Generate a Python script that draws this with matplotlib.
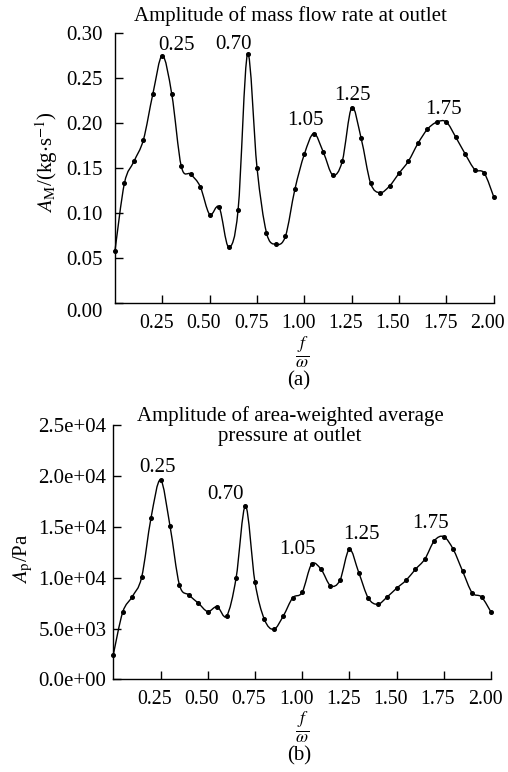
import matplotlib
matplotlib.use("Agg")
import matplotlib.pyplot as plt
import matplotlib.transforms as mtransforms
from matplotlib.path import Path
from matplotlib.patches import PathPatch
from matplotlib.ticker import FixedLocator, FuncFormatter

plt.rcParams['font.family'] = ['Liberation Serif', 'DejaVu Serif']
plt.rcParams['mathtext.fontset'] = 'stix'

# ---------------- data ----------------
freq = [0.00, 0.05, 0.10, 0.15, 0.20, 0.25, 0.30, 0.35, 0.40, 0.45,
        0.50, 0.55, 0.60, 0.65, 0.70, 0.75, 0.80, 0.85, 0.90, 0.95,
        1.00, 1.05, 1.10, 1.15, 1.20, 1.25, 1.30, 1.35, 1.40, 1.45,
        1.50, 1.55, 1.60, 1.65, 1.70, 1.75, 1.80, 1.85, 1.90, 1.95, 2.00]

mass_amp = [0.058, 0.133, 0.157, 0.181, 0.232, 0.2745, 0.2315, 0.1515, 0.1427, 0.129,
            0.098, 0.106, 0.062, 0.103, 0.2763, 0.150, 0.0778, 0.0649, 0.0738, 0.126,
            0.165, 0.188, 0.1674, 0.142, 0.157, 0.2167, 0.1826, 0.1327, 0.1222, 0.1297,
            0.1438, 0.1574, 0.177, 0.1927, 0.2008, 0.2008, 0.1838, 0.165, 0.148, 0.144, 0.1178]

pres_amp = [2420, 6620, 8130, 10040, 15910, 19620, 15120, 9310, 8300, 7500,
            6670, 7150, 6230, 9940, 17060, 9580, 5900, 4920, 6230, 8020,
            8560, 11320, 10830, 9220, 9740, 12790, 10490, 8000, 7380, 8100,
            8960, 9740, 10830, 11840, 13640, 14040, 12790, 10630, 8520, 8100, 6620]

peak_labels = ['0.25', '0.70', '1.05', '1.25', '1.75']
mass_label_pos = [(0.323, 0.2858), (0.627, 0.287), (1.008, 0.2019), (1.254, 0.230), (1.736, 0.2144)]
pres_label_pos = [(0.234, 20850), (0.596, 18140), (0.973, 12730), (1.312, 14230), (1.677, 15310)]

xticks = [0.25, 0.50, 0.75, 1.00, 1.25, 1.50, 1.75, 2.00]
mass_yticks = [0.00, 0.05, 0.10, 0.15, 0.20, 0.25, 0.30]
pres_yticks = [0, 5000, 10000, 15000, 20000, 25000]

title_a = 'Amplitude of mass flow rate at outlet'
title_b = 'Amplitude of area-weighted average\npressure at outlet'

FS = 15


def smooth_path(x, y):
    """Catmull-Rom curve through the points, expressed as cubic Bezier segments."""
    n = len(x)
    verts = [(x[0], y[0])]
    codes = [Path.MOVETO]
    for i in range(n - 1):
        x0, y0 = (x[i - 1], y[i - 1]) if i > 0 else (x[i], y[i])
        x1, y1 = x[i], y[i]
        x2, y2 = x[i + 1], y[i + 1]
        x3, y3 = (x[i + 2], y[i + 2]) if i + 2 < n else (x[i + 1], y[i + 1])
        c1 = (x1 + (x2 - x0) / 6.0, y1 + (y2 - y0) / 6.0)
        c2 = (x2 - (x3 - x1) / 6.0, y2 - (y3 - y1) / 6.0)
        verts += [c1, c2, (x2, y2)]
        codes += [Path.CURVE4] * 3
    return Path(verts, codes)


fig = plt.figure(figsize=(5.08, 7.72), dpi=100)

ax1 = fig.add_axes([115 / 508, 1 - 302.7 / 772, 378.7 / 508, 270 / 772])
ax2 = fig.add_axes([113.3 / 508, 1 - 679.3 / 772, 377.7 / 508, 254 / 772])

for ax, yv, ylim in [(ax1, mass_amp, (0, 0.30)), (ax2, pres_amp, (0, 25000))]:
    ax.add_patch(PathPatch(smooth_path(freq, yv), transform=ax.transData,
                           fill=False, edgecolor='black', linewidth=1.0, clip_on=False))
    ax.plot(freq, yv, linestyle='none', marker='o', markersize=2.6,
            color='black', clip_on=False)
    ax.set_xlim(0, 2.0)
    ax.set_ylim(*ylim)
    for s in ['top', 'right']:
        ax.spines[s].set_visible(False)
    for s in ['left', 'bottom']:
        ax.spines[s].set_linewidth(1.0)
    ax.xaxis.set_major_locator(FixedLocator(xticks))
    ax.xaxis.set_major_formatter(FuncFormatter(lambda v, p: f'{v:.2f}'))
    ax.tick_params(direction='in', length=6, width=1.0, labelsize=FS, pad=8)
    ax.tick_params(axis='x', labelsize=14.3)

ax1.yaxis.set_major_locator(FixedLocator(mass_yticks))
ax1.yaxis.set_major_formatter(FuncFormatter(lambda v, p: f'{v:.2f}'))
ax1.tick_params(axis='y', pad=9)
ax2.yaxis.set_major_locator(FixedLocator(pres_yticks))
ax2.yaxis.set_major_formatter(FuncFormatter(lambda v, p: f'{v:.1e}'))
ax2.tick_params(axis='y', pad=5)

fig.canvas.draw()
ax1.get_yticklabels()[0].set_va('top')
shift = mtransforms.ScaledTranslation(-6 / 100, 0, fig.dpi_scale_trans)
for ax in (ax1, ax2):
    for lab in ax.get_xticklabels():
        lab.set_transform(lab.get_transform() + shift)

for lab, (lx, ly) in zip(peak_labels, mass_label_pos):
    ax1.text(lx, ly, lab, ha='center', va='center', fontsize=FS)
for lab, (lx, ly) in zip(peak_labels, pres_label_pos):
    ax2.text(lx, ly, lab, ha='center', va='center', fontsize=FS)

fig.text(290 / 508, 1 - 16 / 772, title_a, ha='center', va='center', fontsize=FS)
fig.text(290 / 508, 1 - 426 / 772, title_b, ha='center', va='center', fontsize=FS,
         linespacing=1.1)

fig.text(47 / 508, 1 - 162 / 772, r'$A_{\mathrm{M}}$/(kg$\cdot$s$^{-1}$)',
         rotation=90, ha='center', va='center', fontsize=FS)
fig.text(23 / 508, 1 - 559 / 772, r'$A_{\mathrm{p}}$/Pa',
         rotation=90, ha='center', va='center', fontsize=FS)

fig.text(302 / 508, 1 - 352 / 772, r'$\frac{f}{\omega}$', ha='center', va='center', fontsize=18)
fig.text(302 / 508, 1 - 727 / 772, r'$\frac{f}{\omega}$', ha='center', va='center', fontsize=18)
fig.text(299 / 508, 1 - 381 / 772, '(a)', ha='center', va='center', fontsize=FS)
fig.text(299 / 508, 1 - 756 / 772, '(b)', ha='center', va='center', fontsize=FS)

fig.savefig('out.png', dpi=100)
